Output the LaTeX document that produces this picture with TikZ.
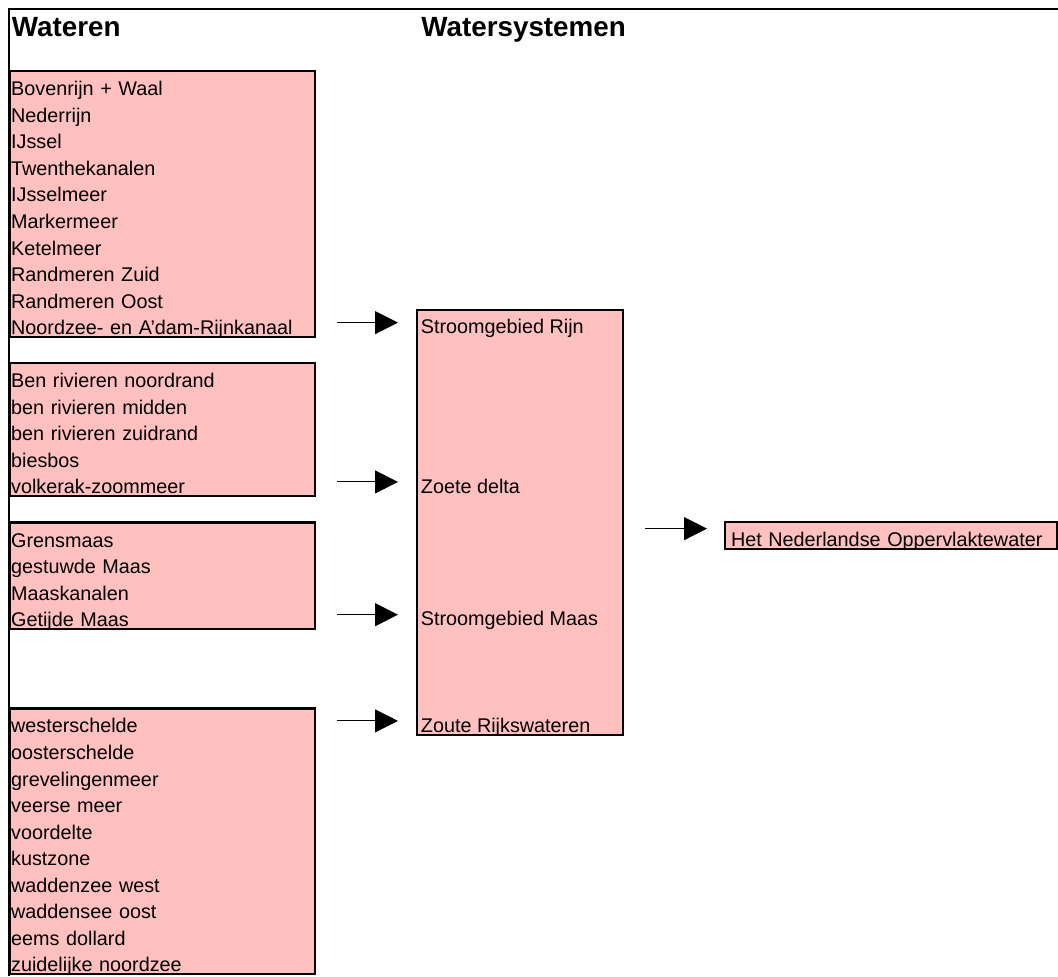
\documentclass[tikz,border=0pt]{standalone}
\usepackage{fontspec}
\setmainfont{Liberation Sans}
\usetikzlibrary{arrows.meta}
\definecolor{rose}{HTML}{FFC0C0}
\begin{document}
\begin{tikzpicture}[x=0.5pt, y=-0.5pt,
  cellfont/.style={font=\fontsize{9.9}{13.275}\selectfont},
  wbox/.style={draw, fill=rose, line width=1.15pt, anchor=north west, align=left, cellfont,
    text width=151.5pt, inner xsep=0.5pt, inner ysep=0pt, text height=12.275pt},
  sysbox/.style={draw, fill=rose, line width=1.15pt, anchor=north west, inner sep=0pt,
    minimum width=103pt, minimum height=212.4pt},
  lbl/.style={anchor=north west, cellfont, inner xsep=2.25pt, inner ysep=0pt,
    text height=12.275pt, text depth=1pt},
  nlbox/.style={lbl, draw, fill=rose, line width=1pt, text width=160pt, inner xsep=3pt, align=left},
  head/.style={anchor=base west, inner sep=0pt, font=\fontsize{13.9}{16}\selectfont\bfseries},
  arr/.style={-{Triangle[length=11.5pt, width=11.5pt]}, line width=0.5pt, shorten <=10.5pt, shorten >=9pt},
  frame/.style={line width=1.4pt}
]
\useasboundingbox (0,0) rectangle (1058,976);
% headers
\node[head] (wateren) at (11.5,36) {Wateren};
\node[head] (systemen) at (421,36) {Watersystemen};
% wateren
\node[wbox, text depth=120.475pt] (wat1) at (9,70) {Bovenrijn + Waal\\Nederrijn\\IJssel\\Twenthekanalen\\IJsselmeer\\Markermeer\\Ketelmeer\\Randmeren Zuid\\Randmeren Oost\\Noordzee- en A’dam-Rijnkanaal};
\node[wbox, text depth=54.1pt] (wat2) at (9,70+11*26.55) {Ben rivieren noordrand\\ben rivieren midden\\ben rivieren zuidrand\\biesbos\\volkerak-zoommeer};
\node[wbox, text depth=40.825pt] (wat3) at (9,70+17*26.55) {Grensmaas\\gestuwde Maas\\Maaskanalen\\Getijde Maas};
\node[wbox, text depth=120.475pt] (wat4) at (9,70+24*26.55) {westerschelde\\oosterschelde\\grevelingenmeer\\veerse meer\\voordelte\\kustzone\\waddenzee west\\waddensee oost\\eems dollard\\zuidelijke noordzee};
% watersystemen
\node[sysbox] (sys) at (416,70+9*26.55) {};
\node[lbl] (rijn) at (416,70+9*26.55) {Stroomgebied Rijn};
\node[lbl] (delta) at (416,70+15*26.55) {Zoete delta};
\node[lbl] (maas) at (416,70+20*26.55) {Stroomgebied Maas};
\node[lbl] (zout) at (416,70+24*26.55) {Zoute Rijkswateren};
% oppervlaktewater
\node[nlbox] (nl) at (724,70+17*26.55) {Het Nederlandse Oppervlaktewater};
\coordinate (nlin) at ([yshift=3.5pt]nl.west);
% pijlen
\draw[arr] (wat1.east |- rijn.west) -- (rijn.west);
\draw[arr] (wat2.east |- delta.west) -- (delta.west);
\draw[arr] (wat3.east |- maas.west) -- (maas.west);
\draw[arr] (wat4.east |- zout.west) -- (zout.west);
\draw[arr, shorten >=8.5pt] (sys.east |- nlin) -- (nlin);
% kader
\draw[frame] (1058,9) -| (9,976);
\end{tikzpicture}
\end{document}
